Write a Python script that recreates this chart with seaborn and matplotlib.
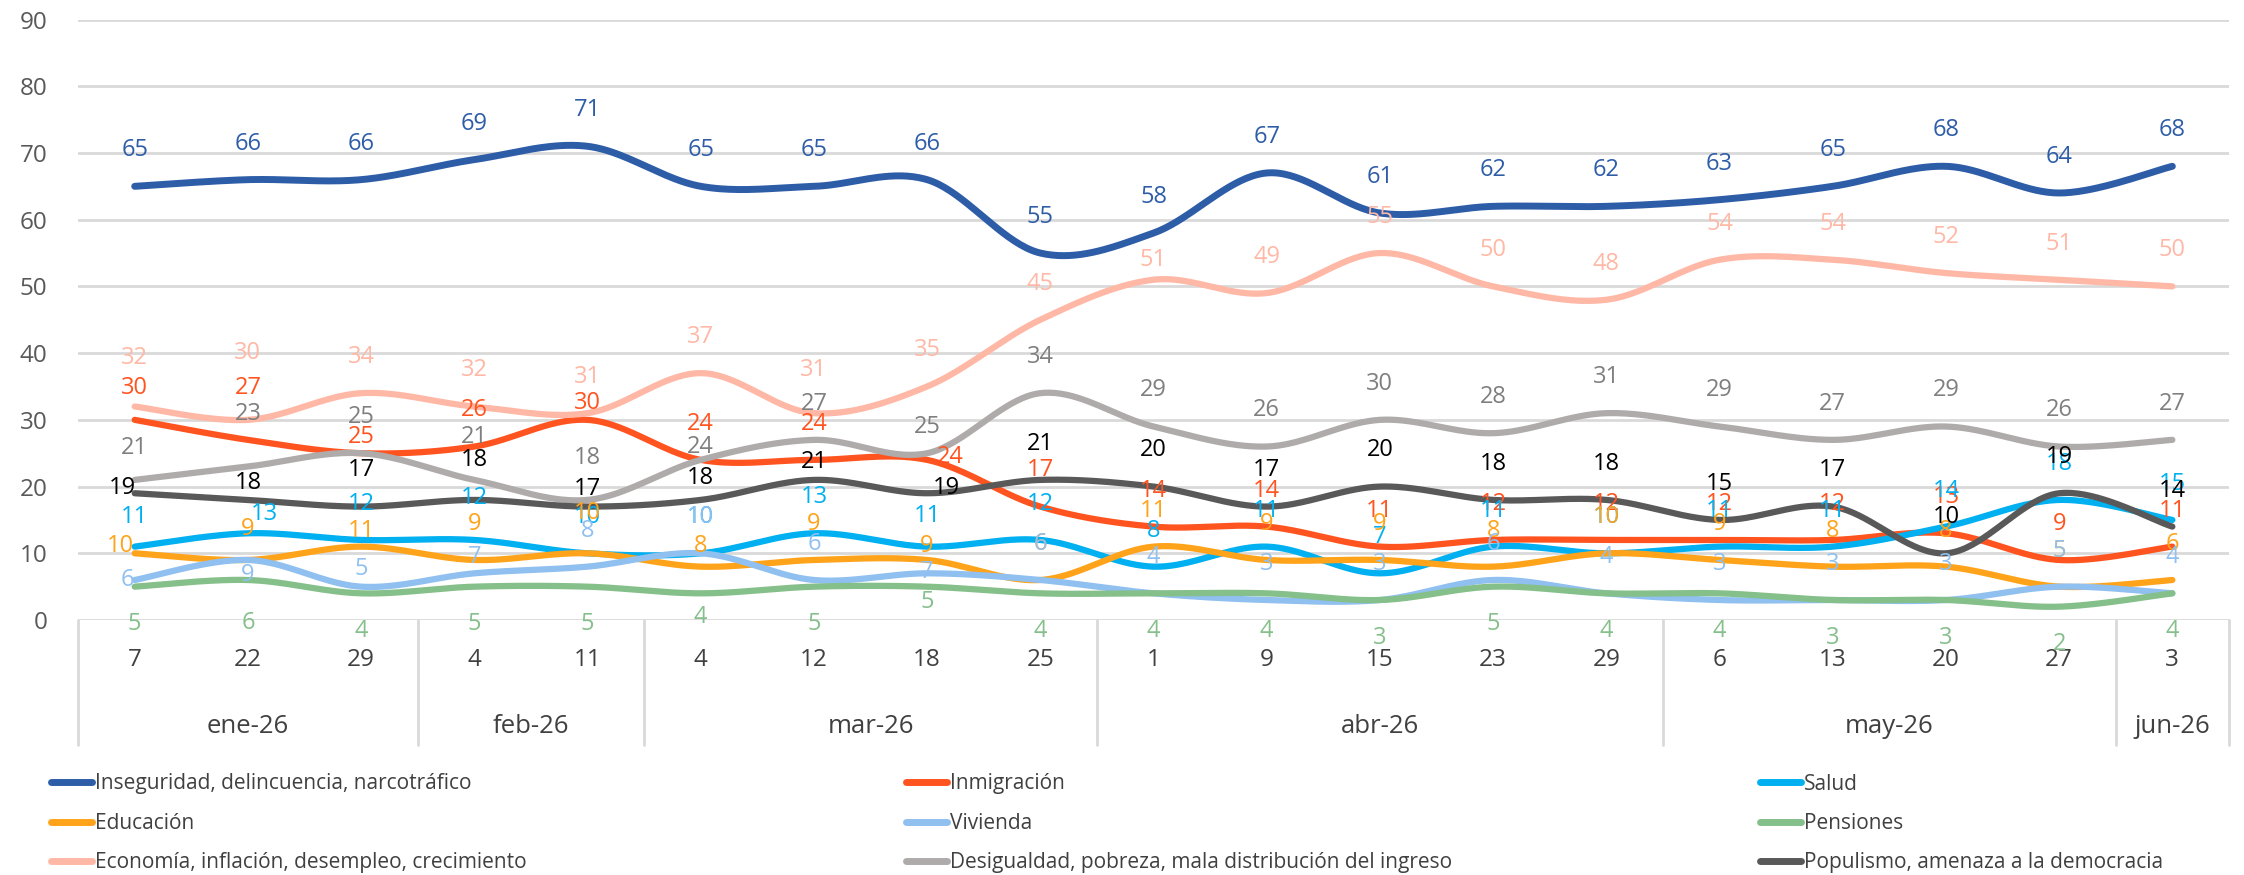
# Encuesta - principales preocupaciones (serie semanal ene-jun 2026)
import numpy as np
import pandas as pd
import matplotlib
matplotlib.use("Agg")
import matplotlib.pyplot as plt
import matplotlib.transforms as mtransforms
from matplotlib.lines import Line2D
import seaborn as sns

# Eje X
days = ["7", "22", "29", "4", "11", "4", "12", "18", "25", "1", "9", "15",
        "23", "29", "6", "13", "20", "27", "3"]
months = ["ene-26", "feb-26", "mar-26", "abr-26", "may-26", "jun-26"]
month_sizes = [3, 2, 4, 5, 4, 1]

# Series
inseguridad = [65, 66, 66, 69, 71, 65, 65, 66, 55, 58, 67, 61, 62, 62, 63, 65, 68, 64, 68]
inmigracion = [30, 27, 25, 26, 30, 24, 24, 24, 17, 14, 14, 11, 12, 12, 12, 12, 13, 9, 11]
salud = [11, 13, 12, 12, 10, 10, 13, 11, 12, 8, 11, 7, 11, 10, 11, 11, 14, 18, 15]
educacion = [10, 9, 11, 9, 10, 8, 9, 9, 6, 11, 9, 9, 8, 10, 9, 8, 8, 5, 6]
vivienda = [6, 9, 5, 7, 8, 10, 6, 7, 6, 4, 3, 3, 6, 4, 3, 3, 3, 5, 4]
pensiones = [5, 6, 4, 5, 5, 4, 5, 5, 4, 4, 4, 3, 5, 4, 4, 3, 3, 2, 4]
economia = [32, 30, 34, 32, 31, 37, 31, 35, 45, 51, 49, 55, 50, 48, 54, 54, 52, 51, 50]
desigualdad = [21, 23, 25, 21, 18, 24, 27, 25, 34, 29, 26, 30, 28, 31, 29, 27, 29, 26, 27]
populismo = [19, 18, 17, 18, 17, 18, 21, 19, 21, 20, 17, 20, 18, 18, 15, 17, 10, 19, 14]

names = ["Inseguridad, delincuencia, narcotráfico", "Inmigración", "Salud",
         "Educación", "Vivienda", "Pensiones",
         "Economía, inflación, desempleo, crecimiento",
         "Desigualdad, pobreza, mala distribución del ingreso",
         "Populismo, amenaza a la democracia"]
values = [inseguridad, inmigracion, salud, educacion, vivienda, pensiones,
          economia, desigualdad, populismo]
colors = ["#2E5DA8", "#FF5420", "#00B0F0", "#FFA31A", "#8FC0F0", "#85BF8A",
          "#FFB8A6", "#AFABAB", "#595959"]
label_colors = ["#2E5DA8", "#FF5420", "#00B0F0", "#FFA31A", "#8FC0F0", "#85BF8A",
                "#FFB8A6", "#7F7F7F", "#000000"]

# etiquetas movidas a mano en el original: (serie, punto) -> (dx, dy) en puntos
label_moves = {
    (6, 0): (0, 35), (1, 0): (0, 23), (7, 0): (0, 23), (8, 0): (-9, 4),
    (2, 0): (0, 21), (3, 0): (-10, 5), (4, 0): (-5, 0),
    (6, 1): (0, 48), (1, 1): (0, 37), (7, 1): (0, 38), (8, 1): (0, 12),
    (2, 1): (12, 14), (3, 1): (0, 22), (4, 1): (0, -11), (5, 1): (0, -31),
    (1, 2): (0, 12), (3, 2): (0, 11), (4, 2): (0, 13),
    (7, 3): (0, 31), (8, 3): (0, 29), (2, 3): (0, 30), (4, 3): (0, 12),
    (1, 4): (0, 12), (7, 4): (0, 30), (8, 4): (0, 13), (3, 4): (0, 29),
    (7, 5): (0, 9), (8, 5): (0, 16), (3, 5): (0, 15), (5, 5): (0, -17),
    (6, 6): (0, 31), (8, 6): (0, 13),
    (7, 7): (0, 19), (1, 7): (17, 2), (8, 7): (14, 4), (2, 7): (0, 22),
    (3, 7): (0, 10), (4, 7): (0, 1), (5, 7): (0, -11),
    (6, 9): (0, 14),
}


def smooth(y, n=40):
    # curva suavizada tipo Excel (bezier con tangentes catmull-rom)
    y = np.asarray(y, float)
    x = np.arange(len(y), dtype=float)
    xs, ys = [], []
    for i in range(len(y) - 1):
        i0, i3 = max(i - 1, 0), min(i + 2, len(y) - 1)
        p0 = np.array([x[i], y[i]])
        p3 = np.array([x[i + 1], y[i + 1]])
        p1 = p0 + (np.array([x[i + 1], y[i + 1]]) - np.array([x[i0], y[i0]])) / 6
        p2 = p3 - (np.array([x[i3], y[i3]]) - np.array([x[i], y[i]])) / 6
        t = np.linspace(0, 1, n)[:, None]
        pts = ((1 - t) ** 3) * p0 + 3 * ((1 - t) ** 2) * t * p1 + 3 * (1 - t) * t ** 2 * p2 + t ** 3 * p3
        xs.extend(pts[:, 0])
        ys.extend(pts[:, 1])
    return xs, ys


sns.set_theme(style="white")
plt.rcParams["font.family"] = ["Open Sans", "DejaVu Sans"]

fig = plt.figure(figsize=(22.44, 8.75), dpi=100)
ax = fig.add_axes([0.0348, 0.2914, 0.9585, 0.6863])

for k, (name, vals) in enumerate(zip(names, values)):
    xs, ys = smooth(vals)
    df = pd.DataFrame({"x": xs, "y": ys})
    sns.lineplot(data=df, x="x", y="y", sort=False, estimator=None, ax=ax,
                 color=colors[k], lw=5 if k == 0 else 4.5, legend=False,
                 solid_capstyle="round")

# etiquetas de datos
for k, vals in enumerate(values):
    off = -27 if names[k] == "Pensiones" else 26
    for i, v in enumerate(vals):
        dx, dy = label_moves.get((k, i), (0, off))
        ax.annotate(str(v), (i, v), xytext=(dx, dy), textcoords="offset points",
                    ha="center", va="center", fontsize=17, color=label_colors[k])

ax.set_xlim(-0.5, len(days) - 0.5)
ax.set_ylim(0, 90)
ax.set_yticks(range(0, 91, 10))
ax.set_xticks(range(len(days)))
ax.set_xticklabels(days, fontsize=17.5, color="#404040")
ax.tick_params(axis="y", length=0, pad=22, labelsize=17.5, labelcolor="#595959")
ax.tick_params(axis="x", length=0, pad=20)
ax.set_xlabel("")
ax.set_ylabel("")
ax.yaxis.grid(True, color="#D9D9D9", lw=2)
ax.set_axisbelow(True)
for s in ax.spines.values():
    s.set_visible(False)

# meses y separadores
trans = mtransforms.blended_transform_factory(ax.transData, ax.transAxes)
bounds = np.concatenate([[0], np.cumsum(month_sizes)]) - 0.5
for b in bounds:
    ax.plot([b, b], [0, -0.208], transform=trans, clip_on=False, color="#D9D9D9", lw=2)
for m, a, b in zip(months, bounds[:-1], bounds[1:]):
    ax.text((a + b) / 2, -0.178, m, transform=trans, ha="center", va="center",
            fontsize=18.5, color="#404040")

# leyenda en tres columnas
col_x = [0.0227, 0.4037, 0.7843]
for c in range(3):
    idx = [c, c + 3, c + 6]
    handles = [Line2D([], [], color=colors[j], lw=5) for j in idx]
    fig.legend(handles, [names[j] for j in idx], loc="upper left",
               bbox_to_anchor=(col_x[c], 0.116), frameon=False, fontsize=15,
               handlelength=1.97, handletextpad=0.15, labelspacing=0.88,
               borderpad=0, borderaxespad=0, labelcolor="#404040")

fig.savefig("out.png", dpi=100)
